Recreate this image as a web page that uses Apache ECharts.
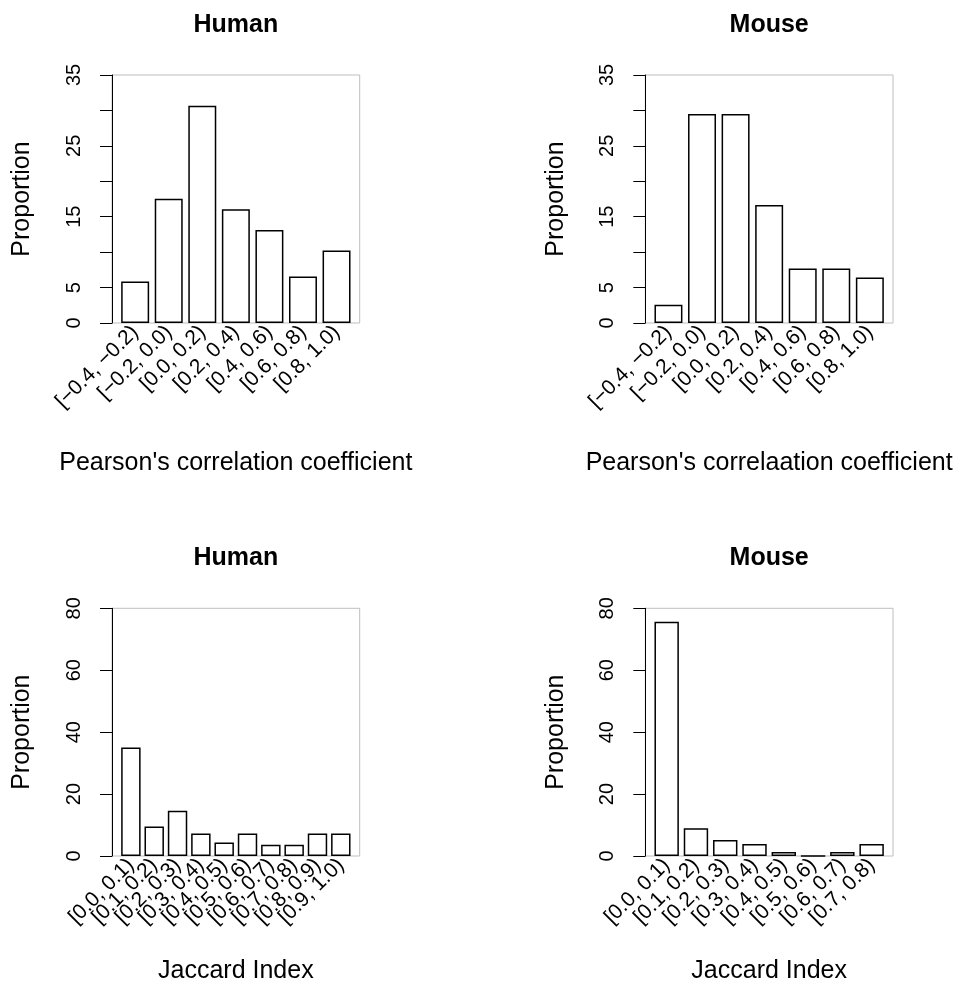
<!DOCTYPE html>
<html><head><meta charset="utf-8">
<script src="https://cdn.jsdelivr.net/npm/echarts@6/dist/echarts.min.js"></script>
<style>html,body{margin:0;padding:0;background:#fff}#c{width:961px;height:984px}</style>
</head><body><div id="c"></div>
<script>
// ---- data ----
const pearsonCategories = ['[\u22120.4, \u22120.2)', '[\u22120.2, 0.0)', '[0.0, 0.2)', '[0.2, 0.4)', '[0.4, 0.6)', '[0.6, 0.8)', '[0.8, 1.0)'];
const jaccardHumanCategories = ['[0.0, 0.1)', '[0.1, 0.2)', '[0.2, 0.3)', '[0.3, 0.4)', '[0.4, 0.5)', '[0.5, 0.6)', '[0.6, 0.7)', '[0.7, 0.8)', '[0.8, 0.9)', '[0.9, 1.0)'];
const jaccardMouseCategories = ['[0.0, 0.1)', '[0.1, 0.2)', '[0.2, 0.3)', '[0.3, 0.4)', '[0.4, 0.5)', '[0.5, 0.6)', '[0.6, 0.7)', '[0.7, 0.8)'];

const humanPearson = [5.84, 17.52, 30.66, 16.06, 13.14, 6.57, 10.22];
const mousePearson = [2.56, 29.49, 29.49, 16.67, 7.69, 7.69, 6.41];
const humanJaccard = [35.04, 9.49, 14.60, 7.30, 4.38, 7.30, 3.65, 3.65, 7.30, 7.30];
const mouseJaccard = [75.64, 8.97, 5.13, 3.85, 1.28, 0, 1.28, 3.85];

const pearsonTickLabels = ['0', '5', '15', '25', '35'];
const jaccardTickLabels = ['0', '20', '40', '60', '80'];

// ---- layout ----
const FONT = "'Liberation Sans', Arial, Helvetica, sans-serif";
const panels = [
  {title: 'Human', xName: "Pearson's correlation coefficient", cats: pearsonCategories, values: humanPearson,
   yMax: 35, yStep: 5, ticks: pearsonTickLabels, box: {l: 112, r: 359.7, t: 75, b: 323}, titleTop: 13, xNameGap: 128},
  {title: 'Mouse', xName: "Pearson's correlaation coefficient", cats: pearsonCategories, values: mousePearson,
   yMax: 35, yStep: 5, ticks: pearsonTickLabels, box: {l: 645.3, r: 893, t: 75, b: 323}, titleTop: 13, xNameGap: 128},
  {title: 'Human', xName: 'Jaccard Index', cats: jaccardHumanCategories, values: humanJaccard,
   yMax: 80, yStep: 20, ticks: jaccardTickLabels, box: {l: 112, r: 359.7, t: 608.3, b: 856}, titleTop: 546, xNameGap: 103},
  {title: 'Mouse', xName: 'Jaccard Index', cats: jaccardMouseCategories, values: mouseJaccard,
   yMax: 80, yStep: 20, ticks: jaccardTickLabels, box: {l: 645.3, r: 893, t: 608.3, b: 856}, titleTop: 546, xNameGap: 103}
];

const grid = [], xAxis = [], yAxis = [], series = [], title = [];
panels.forEach((p, i) => {
  const {l, r, t, b} = p.box;
  const W = r - l, H = b - t;
  const n = p.cats.length;
  const R = 1.2 * n - 0.2;
  const u = W / (1.08 * R);
  const inset = (0.04 * R - 0.1) * u;
  const a = 2 * i, c = 2 * i + 1;
  grid.push({left: l, top: t, width: W, height: H, show: true, borderColor: '#bebebe', borderWidth: 1,
             backgroundColor: 'transparent', containLabel: false, outerBoundsMode: 'none'});
  grid.push({left: l + inset, top: t, width: W - 2 * inset, height: H, containLabel: false, outerBoundsMode: 'none'});
  xAxis.push({gridIndex: a, type: 'value', show: false, min: 0, max: 1});
  yAxis.push({gridIndex: a, type: 'value', min: 0, max: p.yMax, interval: p.yStep,
    axisLine: {show: true, lineStyle: {color: '#000', width: 1}},
    axisTick: {show: true, length: 12, lineStyle: {color: '#000', width: 1}},
    splitLine: {show: false},
    axisLabel: {rotate: 90, fontSize: 20, fontFamily: FONT, color: '#000', margin: 28,
      formatter: v => p.ticks.includes(String(v)) ? String(v) : ''},
    name: 'Proportion', nameLocation: 'middle', nameRotate: 90, nameGap: 77,
    nameTextStyle: {fontSize: 25, fontFamily: FONT, color: '#000'}});
  xAxis.push({gridIndex: c, type: 'category', data: p.cats,
    axisLine: {show: false}, axisTick: {show: false}, splitLine: {show: false},
    axisLabel: {rotate: 45, interval: 0, fontSize: 21, fontFamily: FONT, color: '#000', margin: 6, hideOverlap: false},
    name: p.xName, nameLocation: 'middle', nameGap: p.xNameGap,
    nameTextStyle: {fontSize: 25, fontFamily: FONT, color: '#000'}});
  yAxis.push({gridIndex: c, type: 'value', min: 0, max: p.yMax, show: false, splitLine: {show: false}});
  series.push({type: 'bar', xAxisIndex: c, yAxisIndex: c, data: p.values, barWidth: (100 / 1.2) + '%',
    itemStyle: {color: '#fff', borderColor: '#000', borderWidth: 1.5}, silent: true});
  title.push({text: p.title, left: (l + r) / 2, top: p.titleTop, textAlign: 'center', padding: 0,
    textStyle: {fontSize: 25, fontWeight: 'bold', fontFamily: FONT, color: '#000'}});
});

const chart = echarts.init(document.getElementById('c'), null, {renderer: 'canvas'});
chart.setOption({animation: false, backgroundColor: '#fff', title, grid, xAxis, yAxis, series});
</script>
</body></html>
